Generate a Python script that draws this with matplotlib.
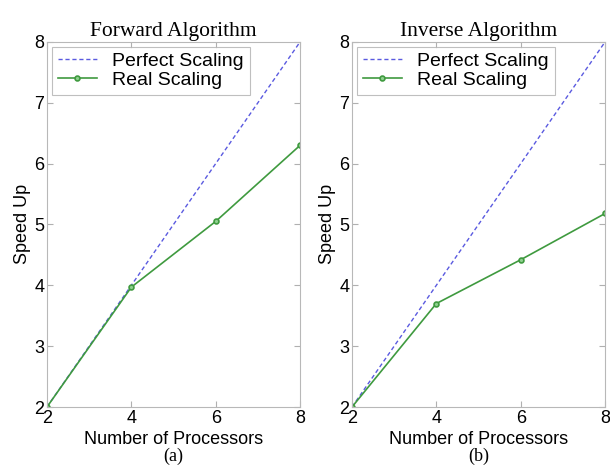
import matplotlib
matplotlib.use('Agg')
import matplotlib.pyplot as plt

PROCS = [2, 4, 6, 8]
PERFECT = [2, 4, 6, 8]
REAL_FORWARD = [2, 3.97, 5.05, 6.3]
REAL_INVERSE = [2, 3.7, 4.42, 5.18]
TITLES = ['Forward Algorithm', 'Inverse Algorithm']
TAGS = ['(a)', '(b)']

plt.rcParams['font.family'] = ['Liberation Sans', 'DejaVu Sans']

fig = plt.figure(figsize=(6.1, 4.7), dpi=100)
rects = [[0.077, 0.134, 0.415, 0.777], [0.577, 0.134, 0.415, 0.777]]

for rect, real, title, tag in zip(rects, [REAL_FORWARD, REAL_INVERSE], TITLES, TAGS):
    ax = fig.add_axes(rect)
    ax.plot(PROCS, PERFECT, '--', color='#5a5ae0', lw=1.0, dashes=(3, 2),
            label='Perfect Scaling')
    ax.plot(PROCS, real, '-o', color='#3f9a3f', lw=1.2, ms=3.5,
            mfc='#8fd08f', mec='#3f9a3f', mew=1.2, label='Real Scaling')
    ax.set_xlim(2, 8)
    ax.set_ylim(2, 8)
    ax.set_xticks([2, 4, 6, 8])
    ax.set_yticks([2, 3, 4, 5, 6, 7, 8])
    ax.tick_params(direction='in', top=True, right=True, labelsize=13,
                   color='#b0b0b0', length=4, pad=2)
    for s in ax.spines.values():
        s.set_color('#b8b8b8')
    ax.set_xlabel('Number of Processors', fontsize=13, labelpad=3)
    ax.set_ylabel('Speed Up', fontsize=13, labelpad=2)
    ax.set_title(title, fontsize=15.5, family='Liberation Serif', pad=4)
    leg = ax.legend(loc='upper left', fontsize=14, fancybox=False,
                    borderpad=0.3, labelspacing=0.05, handlelength=2.0,
                    handletextpad=0.8, borderaxespad=0.25)
    leg.get_frame().set_edgecolor('#b0b0b0')
    leg.get_frame().set_linewidth(0.8)
    cx = rect[0] + rect[2] / 2
    fig.text(cx, 0.01, tag, ha='center', va='bottom', fontsize=13,
             family='Liberation Serif')

fig.savefig('out.png', dpi=100)
